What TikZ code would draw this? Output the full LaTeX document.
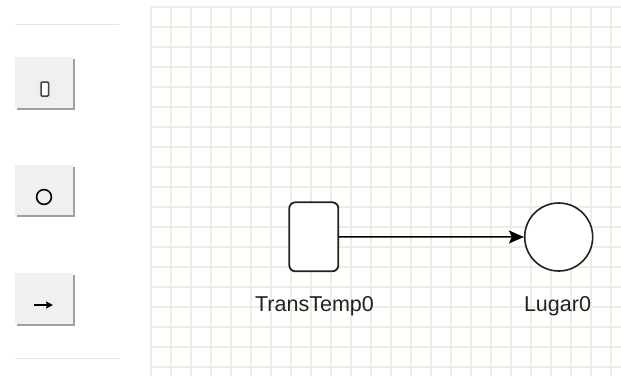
\documentclass[tikz,border=0pt]{standalone}
\usepackage{fontspec}
\setmainfont{Liberation Sans}
\usetikzlibrary{arrows.meta}
\definecolor{gridc}{RGB}{232,240,225}
\definecolor{btnc}{RGB}{240,240,240}
\definecolor{shadc}{RGB}{160,160,160}
\definecolor{sepc}{RGB}{228,228,228}
\definecolor{inkc}{RGB}{34,34,34}
\tikzset{
  btn/.style={fill=btnc, draw=none},
  btnshadow/.style={fill=shadc, draw=none},
  sep/.style={draw=sepc, line width=1pt},
  trans/.style={draw=inkc, line width=1.8pt, rounded corners=6pt, fill=white},
  place/.style={draw=inkc, line width=1.6pt, fill=white},
  lbl/.style={font=\fontsize{21.5}{25}\selectfont, text=inkc, inner sep=0pt, anchor=base},
  conn/.style={draw=black, line width=1.5pt, -{Stealth[length=15pt,width=13pt,inset=3pt]}},
}
\begin{document}
\begin{tikzpicture}[x=1pt,y=-1pt]
\useasboundingbox (0,0) rectangle (621,376);
\fill[white] (0,0) rectangle (621,376);
% grid
\foreach \gx in {151,171,...,611} {\draw[gridc, line width=1.8pt] (\gx,7) -- (\gx,376);}
\foreach \gy in {7,27,...,367} {\draw[gridc, line width=1.8pt] (151,\gy) -- (621,\gy);}
% left panel
\draw[sep] (15,24) -- (119,24);
\draw[sep] (15,358) -- (119,358);
% button 1
\fill[btnshadow] (17,59) rectangle (75,110);
\fill[btn] (15,57) rectangle (73,108);
\fill[gray!15] (37,79) rectangle (52,98);
\draw[draw=inkc!85, line width=1.5pt, rounded corners=1pt, fill=white] (41,82) rectangle (48.5,96);
% button 2
\fill[btnshadow] (17,167) rectangle (75,217);
\fill[btn] (15,165) rectangle (73,215);
\draw[black, line width=1.6pt] (44,197) circle (7.4);
% button 3
\fill[btnshadow] (17,275) rectangle (75,326);
\fill[btn] (15,273) rectangle (73,324);
\draw[black, line width=1.5pt, -{Stealth[length=7pt,width=7pt,inset=1pt]}] (34,305) -- (53,305);
% diagram
\node[trans, minimum width=49pt, minimum height=69pt, inner sep=0pt] (t0) at (313.8,236.8) {};
\node[place, circle, minimum size=68pt, inner sep=0pt] (p0) at (558.7,237) {};
\draw[conn] (t0.east) -- (p0.west);
\node[lbl] (lt0) at (314.5,311) {TransTemp0};
\node[lbl] (lp0) at (557.5,311) {Lugar0};
\end{tikzpicture}
\end{document}
